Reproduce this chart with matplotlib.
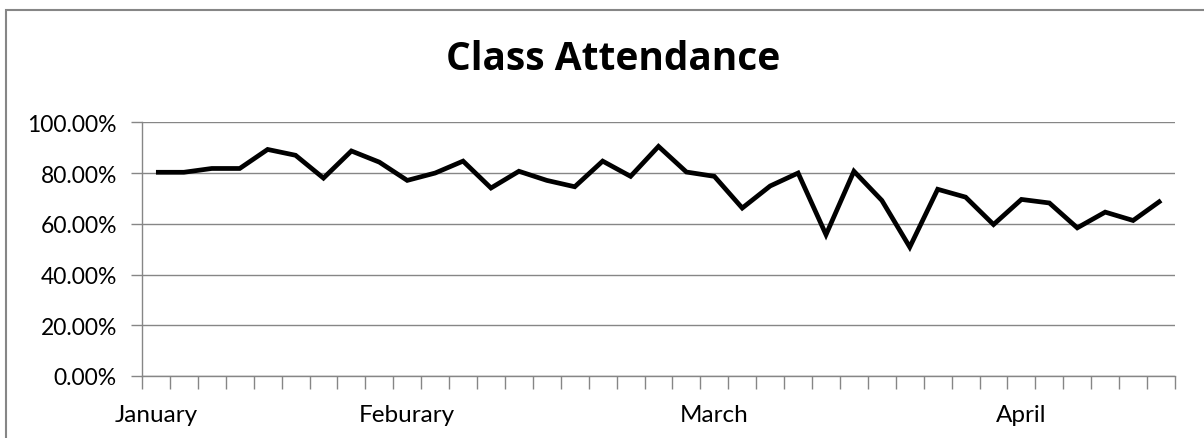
import numpy as np
import matplotlib
matplotlib.use("Agg")
import matplotlib.pyplot as plt
from matplotlib.patches import Rectangle
from matplotlib.ticker import FuncFormatter

# attendance per class session (percent)
attendance = [80.3, 80.3, 81.8, 81.8, 89.3, 87.0, 78.0, 88.7, 84.3, 77.1,
              80.0, 84.7, 74.1, 80.7, 77.1, 74.6, 84.7, 78.7, 90.5, 80.4,
              78.7, 66.2, 74.9, 80.0, 55.7, 80.7, 69.2, 50.8, 73.6, 70.5,
              59.7, 69.6, 68.2, 58.4, 64.6, 61.3, 69.2]
month_labels = ["January", "Feburary", "March", "April"]
month_start = [0, 9, 20, 31]

plt.rcParams['font.family'] = ['Lato', 'DejaVu Sans']

fig = plt.figure(figsize=(12.04, 4.39), dpi=100)
ax = fig.add_axes([142/1204, 1 - 377/439, (1175 - 142)/1204, (377 - 123.3)/439])

x = np.arange(len(attendance))
ax.plot(x, np.array(attendance) / 100, color='black', lw=3.4,
        solid_joinstyle='miter', solid_capstyle='butt')

grey = '#868686'
ax.set_xlim(-0.5, len(attendance) - 0.5)
ax.set_ylim(0, 1)
ax.set_yticks(np.arange(0, 1.01, 0.2))
ax.yaxis.set_major_formatter(FuncFormatter(lambda v, p: f"{v*100:.2f}%"))
ax.grid(axis='y', color=grey, lw=1)
ax.set_axisbelow(True)

ax.set_xticks(month_start)
ax.set_xticklabels(month_labels)
ax.set_xticks(np.arange(-0.5, len(attendance)), minor=True)
ax.tick_params(axis='x', which='major', length=0, pad=20, labelsize=17.5, colors='#000000')
ax.tick_params(axis='x', which='minor', length=9, width=1, color=grey)
ax.tick_params(axis='y', length=8, width=1, color=grey, labelsize=16.5, pad=10)
for lab in ax.get_yticklabels():
    lab.set_color('#000000')

for s in ['top', 'right']:
    ax.spines[s].set_visible(False)
for s in ['left', 'bottom']:
    ax.spines[s].set_color(grey)
    ax.spines[s].set_linewidth(1)

fig.text(0.509, 1 - 60/439, "Class Attendance", ha='center', va='center',
         fontsize=28, fontweight='bold', family=['Open Sans', 'DejaVu Sans'])

# chart frame (only top and left edges are in view)
fig.add_artist(Rectangle((6/1204, -0.5), 2, 1.5 - 11/439, transform=fig.transFigure,
                         fill=False, edgecolor=grey, lw=1.5))

fig.savefig("out.png", dpi=100, facecolor='white')
